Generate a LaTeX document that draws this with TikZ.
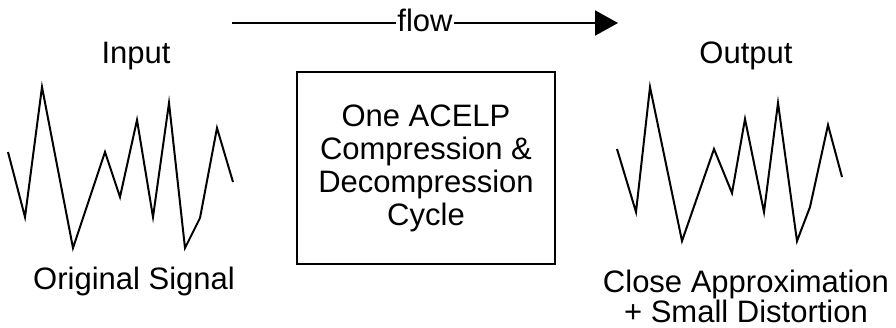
\documentclass[tikz,border=0pt]{standalone}
\usepackage{fontspec}
\setmainfont{Liberation Sans}
\usetikzlibrary{arrows.meta,positioning}
\begin{document}
\begin{tikzpicture}[x=1pt,y=-1pt,font=\fontsize{31}{33}\selectfont, line join=miter, line width=2pt]
	\useasboundingbox (0,0) rectangle (896,327);
	% flow arrow
	\coordinate (flowstart) at (232,23);
	\coordinate (flowend) at (618,23);
	\draw[-{Triangle[length=23pt,width=25pt]}] (flowstart) -- (flowend)
		node[midway,fill=white,inner sep=1pt,yshift=3pt] (flow) {flow};
	% codec box
	\node[draw,minimum width=258pt,minimum height=192pt,align=center] (cycle) at (426,168)
		{One ACELP\\Compression \&\\Decompression\\Cycle};
	% labels
	\node[anchor=base] (input) at (136,63) {Input};
	\node[anchor=base] (output) at (746,63) {Output};
	\node[anchor=base] (orig) at (134,289) {Original Signal};
	\node[anchor=base] (approx) at (746,292) {Close Approximation};
	\node[anchor=base] (distort) at (746,322) {+ Small Distortion};
	% signals
	\draw plot coordinates {(8,152) (25,217) (42,87) (73,248) (105,152) (120,197) (137,120)
		(153,217) (169,103) (185,248) (200,218) (217,128) (233,182)};
	\draw plot coordinates {(617,149) (636,212) (650,87) (682,241) (714,149) (732,193) (745,119)
		(764,212) (778,103) (797,241) (810,207) (828,125) (842,177)};
\end{tikzpicture}
\end{document}
